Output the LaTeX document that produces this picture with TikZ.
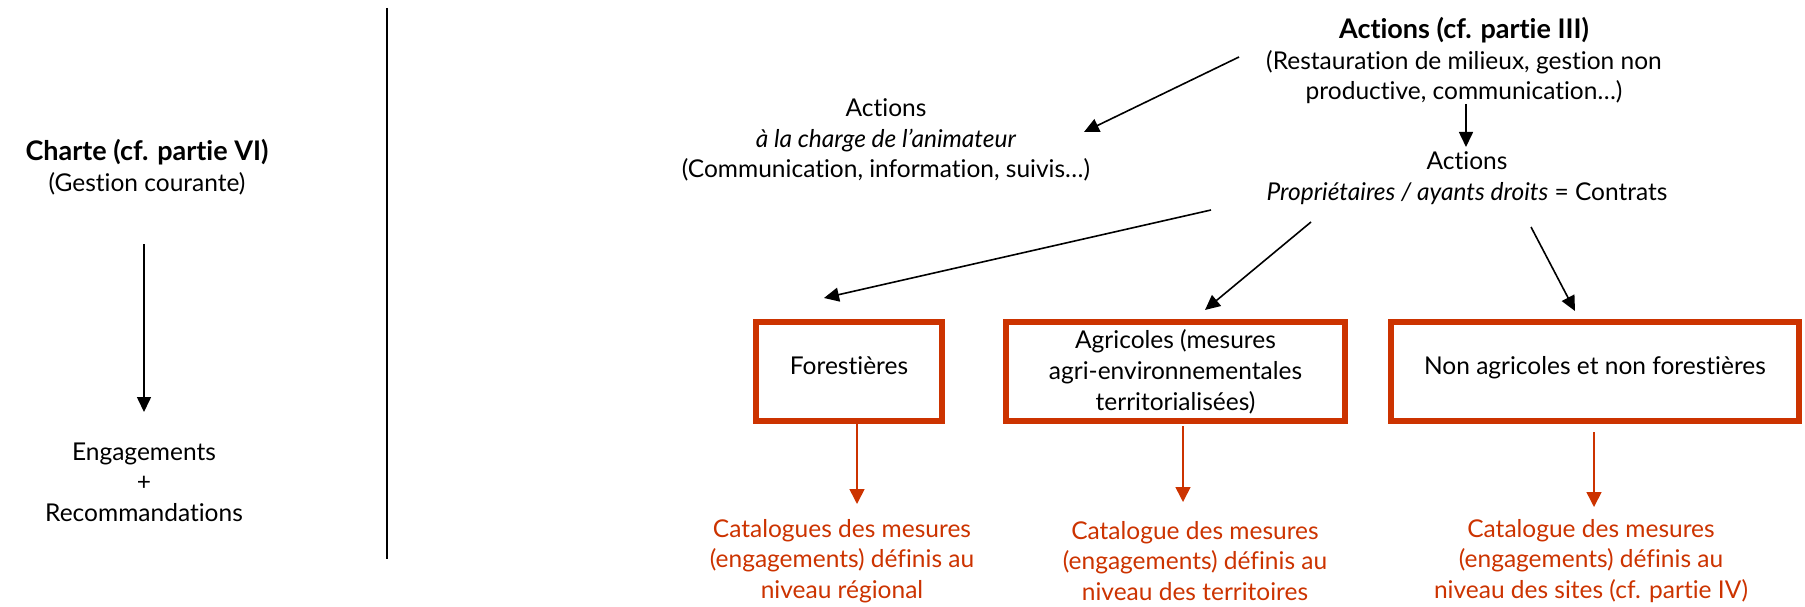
\documentclass[tikz,border=0pt]{standalone}
\usepackage{fontspec}
\setmainfont{Lato}[Ligatures=NoCommon]
\usetikzlibrary{arrows.meta}
\definecolor{rouge}{RGB}{204,51,0}
\newcommand{\titre}[1]{{\fontsize{27}{30.5}\selectfont\bfseries #1}}
\begin{document}
\begin{tikzpicture}[x=1pt,y=-1pt,
  txt/.style={align=center,font=\fontsize{24.5}{30.5}\selectfont,inner sep=0pt},
  rtxt/.style={txt,text=rouge},
  rbox/.style={draw=rouge,line width=6pt,align=center,inner sep=0pt,font=\fontsize{24.5}{31}\selectfont},
  barrow/.style={line width=1.6pt,-{Triangle[length=15pt,width=14pt]}},
  rarrow/.style={draw=rouge,line width=1.6pt,-{Triangle[length=15pt,width=15pt]},rouge}]
\useasboundingbox (0,0) rectangle (1805,607);

% left column
\node[txt] (charte) at (147,167) {\titre{Charte (cf. partie VI)}\\(Gestion courante)};
\node[txt] (engag) at (144,482) {Engagements\\+\\Recommandations};
\coordinate (cs) at (144,244);
\coordinate (ce) at (144,412);
\draw[barrow] (cs) -- (ce);

% divider
\coordinate (vt) at (387,8);
\coordinate (vb) at (387,559);
\draw[line width=1.8pt] (vt) -- (vb);

% top texts
\node[txt] (act3) at (1464,61) {\titre{Actions (cf. partie III)}\\(Restauration de milieux, gestion non\\productive, communication\dots)};
\node[txt] (actL) at (886,140) {Actions\\\textit{à la charge de l’animateur}\\(Communication, information, suivis\dots)};
\node[txt] (actR) at (1467,178) {Actions\\\textit{Propriétaires / ayants droits} = Contrats};

% boxes
\node[rbox,minimum width=186pt,minimum height=99pt,text depth=12pt] (forest) at (849,371.5) {Forestières};
\node[rbox,minimum width=339pt,minimum height=99pt] (agri) at (1175.5,371.5) {Agricoles (mesures\\agri-environnementales\\territorialisées)};
\node[rbox,minimum width=408pt,minimum height=99pt,text depth=12pt] (nonag) at (1595,371.5) {Non agricoles et non forestières};

% red texts
\node[rtxt] (catL) at (842,561) {Catalogues des mesures\\(engagements) définis au\\niveau régional};
\node[rtxt] (catM) at (1195,561) {Catalogue des mesures\\(engagements) définis au\\niveau des territoires};
\node[rtxt] (catR) at (1591,561) {Catalogue des mesures\\(engagements) définis au\\niveau des sites (cf. partie IV)};

% black arrows
\coordinate (a1s) at (1239,57);  \coordinate (a1e) at (1084,132);
\coordinate (a2s) at (1466,104); \coordinate (a2e) at (1466,147);
\coordinate (a3s) at (1211,210); \coordinate (a3e) at (824,298);
\coordinate (a4s) at (1311,222); \coordinate (a4e) at (1205,310);
\coordinate (a5s) at (1531,227); \coordinate (a5e) at (1575,311);
\draw[barrow] (a1s) -- (a1e);
\draw[barrow] (a2s) -- (a2e);
\draw[barrow] (a3s) -- (a3e);
\draw[barrow] (a4s) -- (a4e);
\draw[barrow] (a5s) -- (a5e);

% red arrows
\coordinate (r1s) at (857,424);  \coordinate (r1e) at (857,504);
\coordinate (r2s) at (1183,426); \coordinate (r2e) at (1183,502);
\coordinate (r3s) at (1594,432); \coordinate (r3e) at (1594,507);
\draw[rarrow] (r1s) -- (r1e);
\draw[rarrow] (r2s) -- (r2e);
\draw[rarrow] (r3s) -- (r3e);
\end{tikzpicture}
\end{document}
